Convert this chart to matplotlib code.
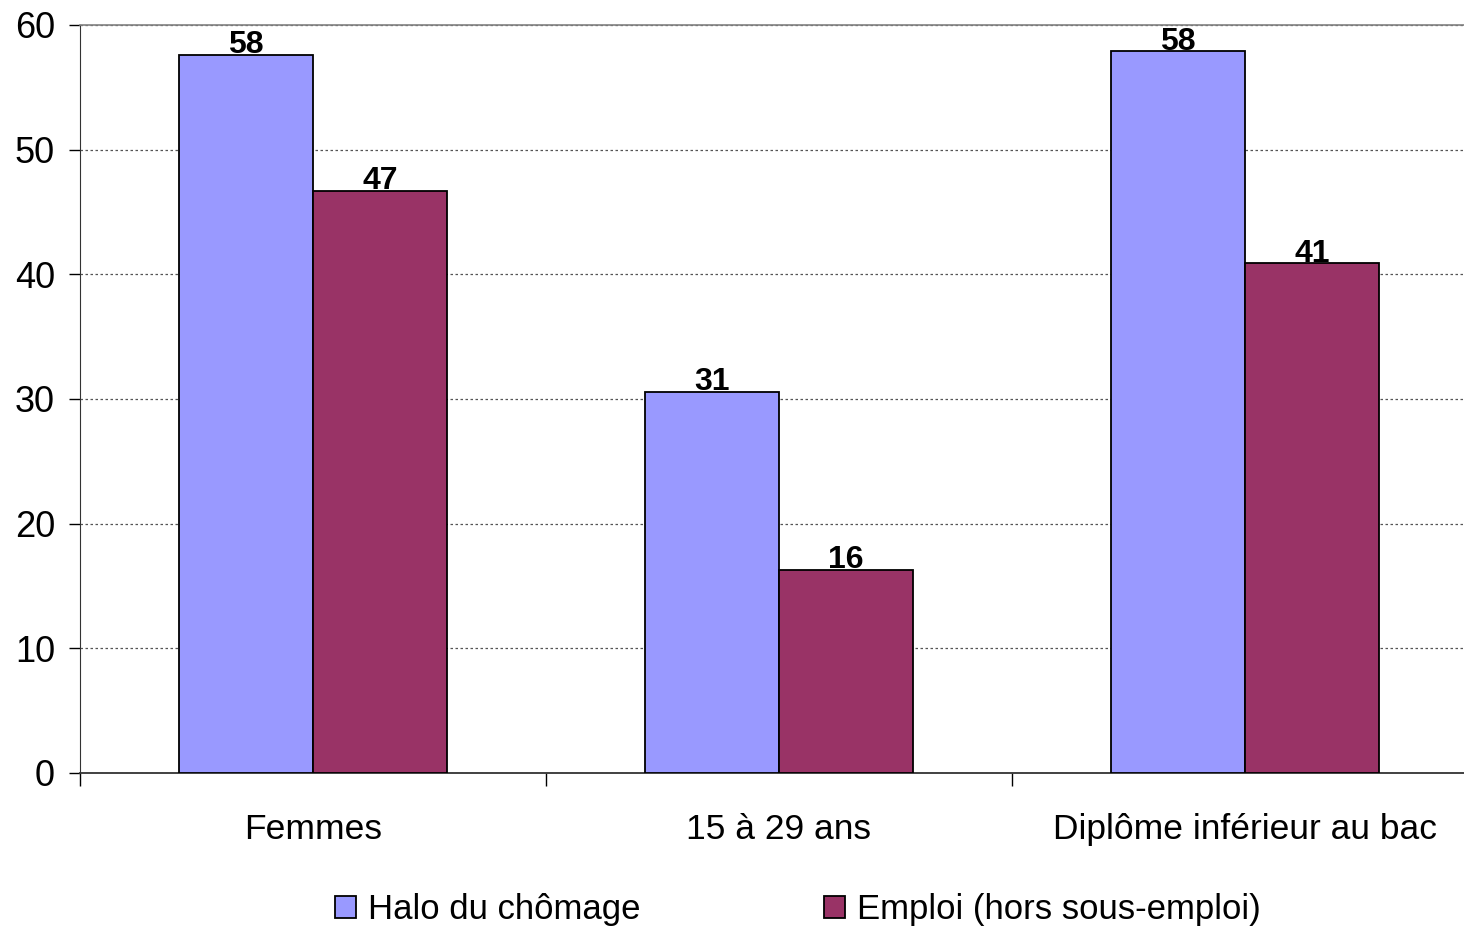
import matplotlib.pyplot as plt
import numpy as np

plt.rcParams['font.family'] = ['Liberation Sans', 'DejaVu Sans']

categories = ["Femmes", "15 à 29 ans", "Diplôme inférieur au bac"]
halo = [57.6, 30.6, 57.9]
emploi = [46.7, 16.3, 40.9]
series_names = ["Halo du chômage", "Emploi (hors sous-emploi)"]
yticks = [0, 10, 20, 30, 40, 50, 60]

fig = plt.figure(figsize=(14.64, 9.27), dpi=100)
ax = fig.add_axes([80/1464, 154/927, 1398/1464, 748/927])

x = np.arange(len(categories))
w = 0.287
b1 = ax.bar(x - w/2, halo, w, color="#9999FF", edgecolor="black", linewidth=1.3, label=series_names[0], zorder=3)
b2 = ax.bar(x + w/2, emploi, w, color="#993366", edgecolor="black", linewidth=1.3, label=series_names[1], zorder=3)
ax.bar_label(b1, fmt="%.0f", fontsize=23, fontweight="bold", padding=-4)
ax.bar_label(b2, fmt="%.0f", fontsize=23, fontweight="bold", padding=-4)

ax.set_xlim(-0.5, 2.5)
ax.set_ylim(0, 60)
ax.set_yticks(yticks)
ax.tick_params(axis="y", labelsize=26, length=8, width=1, direction="out", pad=10)
ax.yaxis.grid(True, linestyle=(0, (2, 2)), color="#555555", linewidth=0.9, zorder=0)

# category boundary ticks, labels centered on groups
ax.set_xticks([-0.5, 0.5, 1.5, 2.5])
ax.set_xticklabels([])
ax.set_xticks(x, minor=True)
ax.set_xticklabels(categories, minor=True)
ax.tick_params(axis="x", which="major", length=9, width=1, direction="out")
ax.tick_params(axis="x", which="minor", length=0, labelsize=25.5, pad=29)

ax.spines["top"].set_color("#808080")
ax.spines["top"].set_linewidth(1.2)
ax.spines["right"].set_visible(False)
ax.spines["left"].set_color("#333333")
ax.spines["bottom"].set_color("#333333")
ax.spines["bottom"].set_linewidth(1.3)

fig.legend(loc="lower center", bbox_to_anchor=(0.545, -0.033), ncol=2, frameon=False,
           fontsize=25, handlelength=0.6, handleheight=0.6, handletextpad=0.35,
           columnspacing=5.3)

fig.savefig("out.png", dpi=100)
